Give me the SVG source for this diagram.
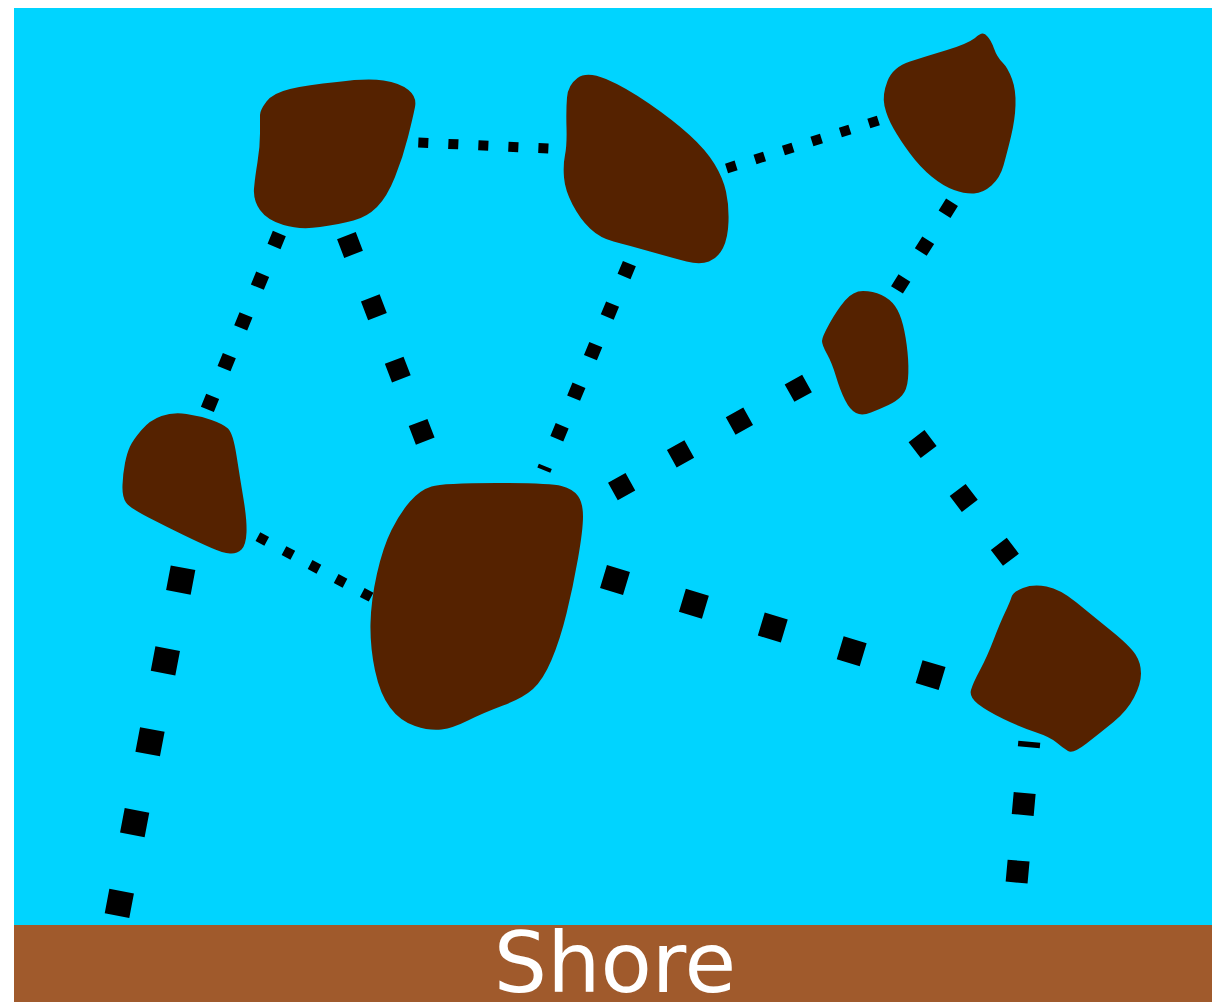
<svg xmlns="http://www.w3.org/2000/svg" width="1212" height="1002" viewBox="0 0 1212 1002">
<style>
.island{fill:#552200}
.c{fill:none;stroke:#000;stroke-linecap:butt}
.thin{stroke-width:10}
.med{stroke-width:14}
</style>
<rect x="0" y="0" width="1212" height="1002" fill="#ffffff"/>
<rect id="water" x="14" y="8" width="1198" height="918" fill="#00d4ff"/>
<g id="connectors">
<path class="c thin" d="M388.3,141.1 L590,150.5" stroke-dasharray="10 20.05"/>
<path class="c thin" d="M698.1,177.4 L905,112" stroke-dasharray="10 19.84"/>
<path class="c med" d="M296,192.8 L198.6,430.8" stroke-dasharray="14 30"/>
<path class="c" stroke-width="20" d="M322.5,173.4 L428.1,448.6" stroke-dasharray="20 46.7"/>
<path class="c med" d="M646.2,223 L543.8,470.1" stroke-dasharray="14 29.9"/>
<path class="c med" d="M975.8,164.5 L884.7,309.4" stroke-dasharray="14 30.7"/>
<path class="c" stroke-width="20" d="M865.9,350.6 L560,521" stroke-dasharray="20 47.4"/>
<path class="c thin" d="M231.8,522.6 L395,610" stroke-dasharray="10 19.6"/>
<path class="c" stroke-width="24" d="M524.6,552.8 L1010,699" stroke-dasharray="24 58.4"/>
<path class="c" stroke-width="20" d="M875.4,382.2 L1050,611" stroke-dasharray="20 47.8"/>
<path class="c" stroke-width="25" d="M198.4,486.9 L117,915.6" stroke-dasharray="25 57.3"/>
<path class="c" stroke-width="22" d="M1029.3,741.7 L1016.6,882.6" stroke-dasharray="22 45.9" stroke-dashoffset="16.4"/>
</g>
<g id="island-a"><path class="island" d="M266.5,101.5 Q273,93 290,89 Q307,85 337,82 Q367,78 383.5,80.5 Q400,83 408.5,90 Q417,97 415,107 Q413,117 408,137 Q403,157 395,177 Q387,197 377,207 Q367,217 353.5,220.5 Q340,224 320,227 Q300,230 283.5,225 Q267,220 260,210 Q253,200 254,188.5 Q255,177 257.5,162 Q260,147 260,133.5 Q260,120 260,115 Q260,110 266.5,101.5 Z"/></g>
<g id="island-b"><path class="island" d="M577.5,78 Q587,71 606,79 Q625,87 649,103.5 Q673,120 689.5,135 Q706,150 714.5,164 Q723,178 726,191.5 Q729,205 728.5,221.5 Q728,238 723,248 Q718,258 709,261.5 Q700,265 686.5,261.5 Q673,258 650,251.5 Q627,245 613.5,241.5 Q600,238 590,228.5 Q580,219 572.5,204.5 Q565,190 564,177.5 Q563,165 565,155 Q567,145 566.5,127.5 Q566,110 567,97.5 Q568,85 577.5,78 Z"/></g>
<g id="island-c"><path class="island" d="M887.5,81 Q893,67 910,61.5 Q927,56 947,50 Q967,44 975,38 Q983,30 987,36 Q991,40 994,48.5 Q997,57 1002.5,62.5 Q1008,68 1012,79 Q1016,90 1015.5,105 Q1015,120 1011,136.5 Q1007,153 1003.5,165.5 Q1000,178 991.5,185.5 Q983,193 974,193.5 Q965,194 954,190 Q943,186 931.5,176.5 Q920,167 910,153.5 Q900,140 893.5,128.5 Q887,117 884.5,106 Q882,95 887.5,81 Z"/></g>
<g id="island-d"><path class="island" d="M141.5,430 Q150,420 161.5,416 Q173,412 186.5,414 Q200,416 211.5,420 Q223,424 228,428.5 Q233,433 236.5,455.5 Q240,478 243.5,499 Q247,520 246.5,532.5 Q246,545 241.5,549.5 Q237,554 230,553.5 Q223,553 211.5,548 Q200,543 183.5,535 Q167,527 148.5,517.5 Q130,508 126,502.5 Q122,497 122.5,485 Q123,473 125,463 Q127,453 130,446.5 Q133,440 141.5,430 Z"/></g>
<g id="island-e"><path class="island" d="M496.5,483 Q550,483 561.5,486 Q573,489 578,496 Q583,503 583,516.5 Q583,530 578,558.5 Q573,587 566.5,613.5 Q560,640 551.5,660 Q543,680 533,689 Q523,698 503,705.5 Q483,713 468,720.5 Q453,728 441.5,729.5 Q430,731 415,726 Q400,721 390,707.5 Q380,694 375,670.5 Q370,647 370.5,623.5 Q371,600 377,573.5 Q383,547 391.5,530 Q400,513 410,501.5 Q420,490 431.5,486.5 Q443,483 496.5,483 Z"/></g>
<g id="island-f"><path class="island" d="M829.5,323.5 Q837,310 845,300.5 Q853,291 863,291 Q873,291 881.5,295 Q890,299 895,306 Q900,313 903,325 Q906,337 907.5,352 Q909,367 908,378.5 Q907,390 902,395.5 Q897,401 888.5,405 Q880,409 871,412.5 Q862,416 856,413 Q850,410 845,400 Q840,390 836,376.5 Q832,363 827,354 Q822,345 822,341 Q822,337 829.5,323.5 Z"/></g>
<g id="island-g"><path class="island" d="M1011.5,597 Q1013,592 1023,588 Q1033,584 1046.5,586.5 Q1060,589 1076.5,602.5 Q1093,616 1111.5,631 Q1130,646 1135.5,654.5 Q1141,663 1141,673.5 Q1141,684 1134,697.5 Q1127,711 1113.5,722 Q1100,733 1086.5,743.5 Q1073,754 1068,751 Q1063,748 1056.5,742.5 Q1050,737 1035,732 Q1020,727 1003.5,719 Q987,711 978,704 Q969,697 971,690 Q973,683 980,670 Q987,657 993.5,640 Q1000,623 1005,612.5 Q1010,602 1011.5,597 Z"/></g>
<g id="shore">
<rect x="14" y="925" width="1198" height="77" fill="#a05a2c"/>
<text x="615" y="992" text-anchor="middle" font-family="DejaVu Sans, sans-serif" font-size="84" fill="#ffffff">Shore</text>
</g>
</svg>
